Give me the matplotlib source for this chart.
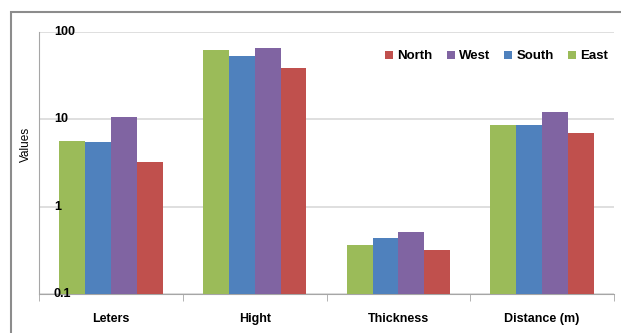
import numpy as np
import matplotlib
matplotlib.use("Agg")
import matplotlib.pyplot as plt
from matplotlib.patches import Rectangle

# ===================== 데이터 =====================
categories = ["Leters", "Hight", "Thickness", "Distance (m)"]
series_names = ["East", "South", "West", "North"]
east = [5.56, 62.8, 0.268, 8.61]
south = [5.41, 53.2, 0.340, 8.54]
west = [10.5, 65.0, 0.419, 12.0]
north = [3.14, 39.1, 0.219, 6.80]
y_ticks = [0.1, 1, 10, 100]
y_tick_labels = ["0.1", "1", "10", "100"]

colors = {"East": "#9BBB59", "South": "#4F81BD", "West": "#8064A2", "North": "#C0504D"}

plt.rcParams["font.family"] = ["Liberation Sans", "DejaVu Sans"]
plt.rcParams["font.weight"] = "bold"

fig = plt.figure(figsize=(6.21, 3.33), dpi=100)
ax = fig.add_axes([39 / 621, 1 - 294 / 333, 575 / 621, 262 / 333])

# 바깥 테두리 (차트 영역)
fig.patches.append(Rectangle((11 / 621, -0.1), 1.2, 1 - 12 / 333 + 0.1,
                             transform=fig.transFigure, fill=False,
                             edgecolor="#8c8c8c", linewidth=1.5))

x = np.arange(len(categories))
width = 0.18
for i, (name, vals) in enumerate(zip(series_names, [east, south, west, north])):
    ax.bar(x + (i - 1.5) * width, vals, width, color=colors[name], label=name,
           zorder=3, bottom=0.1)

ax.set_yscale("log")
ax.set_ylim(0.1, 100)
ax.set_xlim(-0.5, len(categories) - 0.5)
ax.set_yticks(y_ticks)
ax.set_yticklabels([])
ax.yaxis.set_minor_locator(matplotlib.ticker.NullLocator())
ax.tick_params(axis="y", length=0)

# y 눈금 라벨: 축 안쪽, 막대 위에 그림
for val, txt in zip(y_ticks, y_tick_labels):
    ax.text(15 / 575, val, txt, transform=ax.get_yaxis_transform(),
            fontsize=9, ha="left", va="center", zorder=5)

ax.set_xticks(x)
ax.set_xticklabels(categories, fontsize=9)
ax.set_xticks(np.arange(len(categories) + 1) - 0.5, minor=True)
ax.tick_params(axis="x", which="major", length=0, pad=14)
ax.tick_params(axis="x", which="minor", length=5, color="#a6a6a6")

ax.grid(axis="y", color="#d9d9d9", linewidth=1.2, zorder=0)
for side in ["top", "right"]:
    ax.spines[side].set_visible(False)
ax.spines["left"].set_color("#a6a6a6")
ax.spines["bottom"].set_color("#a6a6a6")

ax.set_ylabel("Values", fontsize=8.5)
ax.yaxis.set_label_coords(-7 / 575, 0.57)

handles, labels = ax.get_legend_handles_labels()
ax.legend(handles[::-1], labels[::-1], ncol=4, frameon=False, loc="upper right",
          bbox_to_anchor=(1.01, 0.975), fontsize=9.5, handlelength=0.6,
          handleheight=0.6, handletextpad=0.3, columnspacing=1.1)

fig.savefig("out.png", dpi=100)
